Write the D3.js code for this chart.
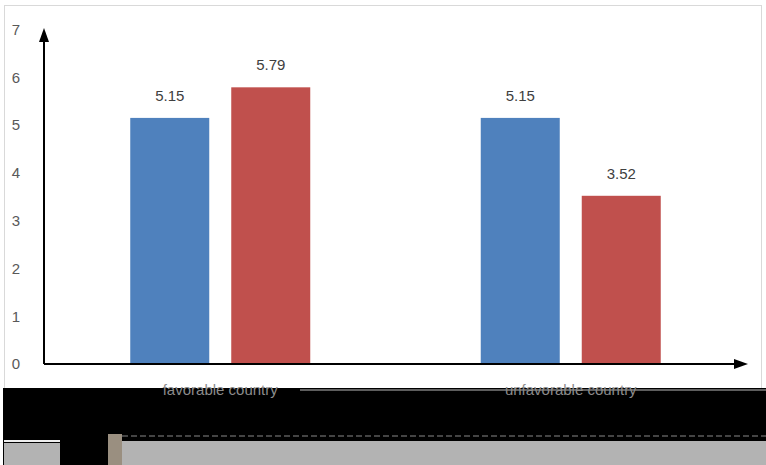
<!DOCTYPE html>
<html>
<head>
<meta charset="utf-8">
<script src="https://cdn.jsdelivr.net/npm/d3@7"></script>
<style>
  body { margin: 0; background: #fff; }
  svg { display: block; font-family: "Liberation Sans", "DejaVu Sans", sans-serif; }
</style>
</head>
<body>
<div id="chart"></div>
<script>
var categories = ["favorable country", "unfavorable country"];
var series1 = [5.15, 5.15];
var series2 = [5.79, 3.52];
var yTicks = [0, 1, 2, 3, 4, 5, 6, 7];
var colors = ["#4f81bd", "#c0504d"];

var width = 766, height = 465;
var svg = d3.select("#chart").append("svg")
  .attr("width", width)
  .attr("height", height);

// outer frame
svg.append("rect")
  .attr("x", 4.5).attr("y", 5.5)
  .attr("width", 757).attr("height", 470)
  .attr("fill", "#fff")
  .attr("stroke", "#d9d9d9");

var x0 = 44, y0 = 364;
var x = d3.scaleBand().domain(categories).range([x0 + 1, 746]);
var y = d3.scaleLinear().domain([0, 7]).range([y0, 29.5]);

var barW = 79, gap = 22;

// y tick labels
var yAxis = svg.append("g")
  .attr("transform", "translate(" + x0 + ",0)")
  .call(d3.axisLeft(y).tickValues(yTicks).tickFormat(d3.format("d")).tickSize(0).tickPadding(24));
yAxis.select(".domain").remove();
yAxis.selectAll("text")
  .attr("fill", "#595959")
  .style("font-size", "15px")
  .style("font-family", "Liberation Sans, sans-serif");

// bars
var rows = categories.map(function(c, i) {
  return { cat: c, vals: [series1[i], series2[i]] };
});

var groups = svg.selectAll(".grp")
  .data(rows)
  .enter()
  .append("g")
    .attr("class", "grp");

groups.selectAll("rect")
  .data(function(d) {
    return d.vals.map(function(v, j) { return { cat: d.cat, v: v, j: j }; });
  })
  .enter()
  .append("rect")
    .attr("x", function(d) {
      var c = x(d.cat) + x.bandwidth() / 2;
      return d.j == 0 ? c - gap / 2 - barW : c + gap / 2;
    })
    .attr("y", function(d) { return y(d.v); })
    .attr("width", barW)
    .attr("height", function(d) { return y0 - y(d.v); })
    .attr("fill", function(d) { return colors[d.j]; });

groups.selectAll("text")
  .data(function(d) {
    return d.vals.map(function(v, j) { return { cat: d.cat, v: v, j: j }; });
  })
  .enter()
  .append("text")
    .attr("x", function(d) {
      var c = x(d.cat) + x.bandwidth() / 2;
      return d.j == 0 ? c - gap / 2 - barW / 2 : c + gap / 2 + barW / 2;
    })
    .attr("y", function(d) { return y(d.v) - 17; })
    .attr("text-anchor", "middle")
    .attr("fill", "#404040")
    .style("font-size", "15px")
    .text(function(d) { return d.v.toFixed(2); });

// axes with arrowheads
svg.append("line")
  .attr("x1", x0).attr("y1", y0).attr("x2", x0).attr("y2", 38)
  .attr("stroke", "#000").attr("stroke-width", 2);
svg.append("path")
  .attr("d", "M" + x0 + ",28 L" + (x0 - 5) + ",42 L" + (x0 + 5) + ",42 Z")
  .attr("fill", "#000");
svg.append("line")
  .attr("x1", x0).attr("y1", y0).attr("x2", 738).attr("y2", y0)
  .attr("stroke", "#000").attr("stroke-width", 2);
svg.append("path")
  .attr("d", "M748," + y0 + " L734," + (y0 - 5) + " L734," + (y0 + 5) + " Z")
  .attr("fill", "#000");

// damaged strip at the bottom of the source image
svg.append("rect").attr("x", 3).attr("y", 388).attr("width", 763).attr("height", 77).attr("fill", "#000");
svg.append("rect").attr("x", 122).attr("y", 441).attr("width", 644).attr("height", 24).attr("fill", "#b3b3b3");
svg.append("rect").attr("x", 4).attr("y", 443).attr("width", 56).attr("height", 22).attr("fill", "#b3b3b3");
svg.append("rect").attr("x", 4).attr("y", 440).attr("width", 56).attr("height", 2).attr("fill", "#eee");
svg.append("rect").attr("x", 108).attr("y", 434).attr("width", 14).attr("height", 31).attr("fill", "#9a8f80");
svg.append("line").attr("x1", 300).attr("y1", 390).attr("x2", 766).attr("y2", 390).attr("stroke", "#bbb");
svg.append("line").attr("x1", 122).attr("y1", 436).attr("x2", 766).attr("y2", 436).attr("stroke", "#888").attr("stroke-dasharray", "6,3");

// category labels
svg.selectAll(".cat")
  .data(categories)
  .enter()
  .append("text")
    .attr("class", "cat")
    .attr("x", function(d) { return x(d) + x.bandwidth() / 2; })
    .attr("y", 395)
    .attr("text-anchor", "middle")
    .attr("fill", "#8c8c8c")
    .style("font-size", "15px")
    .text(function(d) { return d; });
</script>
</body>
</html>
